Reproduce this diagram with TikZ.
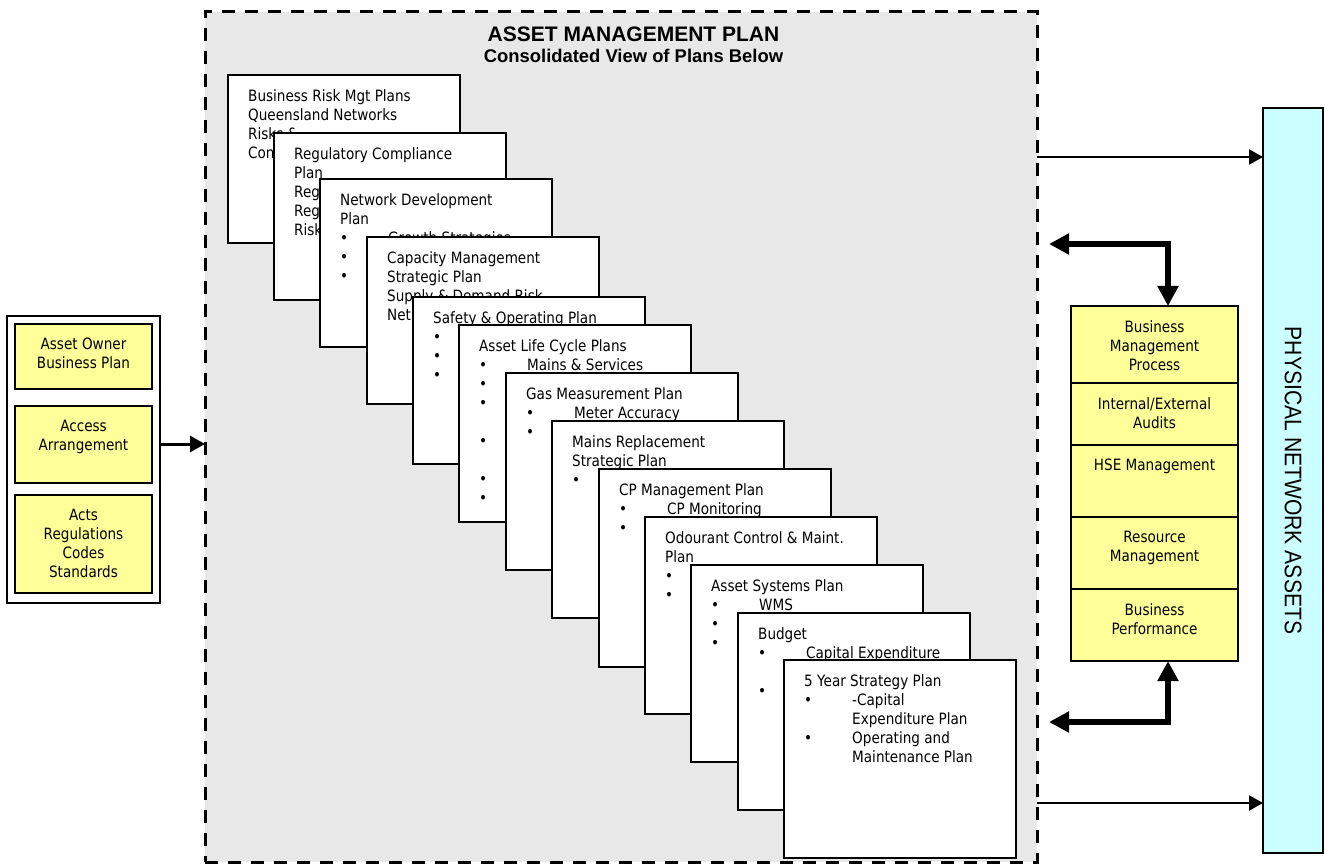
\documentclass[tikz,border=0pt]{standalone}
\usepackage{fontspec}
\setmainfont{DejaVu Sans}[FakeStretch=0.87]
\newfontfamily\headfont{Liberation Sans}
\newfontfamily\sidefont{Liberation Sans}[FakeStretch=0.88]
\usetikzlibrary{positioning,arrows.meta}
\definecolor{panelgray}{HTML}{E8E8E8}
\definecolor{planyellow}{HTML}{FFFF99}
\definecolor{assetcyan}{HTML}{CCFFFF}
\newcommand{\bul}[1]{\makebox[48pt][l]{\textbullet}#1}
\newcommand{\ind}{\hspace*{48pt}}
\begin{document}
\begin{tikzpicture}[x=1pt,y=-1pt,line join=miter,
	txt/.style={inner sep=0pt,font=\fontsize{15.6}{19}\selectfont},
	plan/.style={draw,fill=white,line width=1.6pt,anchor=north west,inner sep=0pt,outer sep=0pt,minimum width=232pt},
	plantxt/.style={txt,anchor=north west,align=left},
	ybox/.style={draw,fill=planyellow,line width=1.4pt,inner sep=0pt,outer sep=0pt,minimum width=167pt},
	ytxt/.style={txt,align=center},
	inarrow/.style={line width=3pt,>={Triangle[length=15pt,width=16pt]},->},
	outarrow/.style={line width=2pt,>={Triangle[length=14pt,width=15pt]},->},
	fatarrow/.style={line width=6pt,>={Triangle[length=20pt,width=20pt]},<->}]
	\useasboundingbox (0,0) rectangle (1325,866);
	\node[draw,fill=panelgray,line width=3pt,dash pattern=on 13pt off 10pt,anchor=north west,inner sep=0pt,outer sep=0pt,minimum width=832pt,minimum height=850pt] (amp) at (205,12) {};
	\node[font=\headfont\bfseries\fontsize{21}{24}\selectfont,inner sep=0pt] (amptitle) at (633.5,34.5) {ASSET MANAGEMENT PLAN};
	\node[font=\headfont\bfseries\fontsize{18.4}{22}\selectfont,inner sep=0pt,below=6.5pt of amptitle] (ampsub) {Consolidated View of Plans Below};
	
	\node[plan,minimum height=168pt] (c1) at (228,75) {};
	\node[plantxt] (c1t) at ([shift={(20,14)}]c1.north west) {Business Risk Mgt Plans\\Queensland Networks\\Risks \&\\Con};
	\node[plan,minimum height=167pt] (c2) at (274,133) {};
	\node[plantxt] (c2t) at ([shift={(20,14)}]c2.north west) {Regulatory Compliance\\Plan\\Reg\\Reg\\Risk};
	\node[plan,minimum height=168pt] (c3) at (320,179) {};
	\node[plantxt] (c3t) at ([shift={(20,14)}]c3.north west) {Network Development\\Plan\\\bul{Growth Strategies}\\\bul{}\\\bul{}};
	\node[plan,minimum height=167pt] (c4) at (367,237) {};
	\node[plantxt] (c4t) at ([shift={(20,14)}]c4.north west) {Capacity Management\\Strategic Plan\\Supply \& Demand Risk\\Net};
	\node[plan,minimum height=167pt] (c5) at (413,297) {};
	\node[plantxt] (c5t) at ([shift={(20,14)}]c5.north west) {Safety \& Operating Plan\\\bul{}\\\bul{}\\\bul{}};
	\node[plan,minimum height=197pt] (c6) at (459,325) {};
	\node[plantxt] (c6t) at ([shift={(20,14)}]c6.north west) {Asset Life Cycle Plans\\\bul{Mains \& Services}\\\bul{}\\\bul{}\\[19pt]\bul{}\\[19pt]\bul{}\\\bul{}};
	\node[plan,minimum height=197pt] (c7) at (506,373) {};
	\node[plantxt] (c7t) at ([shift={(20,14)}]c7.north west) {Gas Measurement Plan\\\bul{Meter Accuracy}\\\bul{}};
	\node[plan,minimum height=197pt] (c8) at (552,421) {};
	\node[plantxt] (c8t) at ([shift={(20,14)}]c8.north west) {Mains Replacement\\Strategic Plan\\\bul{}};
	\node[plan,minimum height=198pt] (c9) at (599,469) {};
	\node[plantxt] (c9t) at ([shift={(20,14)}]c9.north west) {CP Management Plan\\\bul{CP Monitoring}\\\bul{}};
	\node[plan,minimum height=197pt] (c10) at (645,517) {};
	\node[plantxt] (c10t) at ([shift={(20,14)}]c10.north west) {Odourant Control \& Maint.\\Plan\\\bul{}\\\bul{}};
	\node[plan,minimum height=197pt] (c11) at (691,565) {};
	\node[plantxt] (c11t) at ([shift={(20,14)}]c11.north west) {Asset Systems Plan\\\bul{WMS}\\\bul{}\\\bul{}};
	\node[plan,minimum height=197pt] (c12) at (738,613) {};
	\node[plantxt] (c12t) at ([shift={(20,14)}]c12.north west) {Budget\\\bul{Capital Expenditure}\\[19pt]\bul{}};
	\node[plan,minimum height=198pt] (c13) at (784,660) {};
	\node[plantxt] (c13t) at ([shift={(20,14)}]c13.north west) {5 Year Strategy Plan\\\bul{-Capital}\\\ind Expenditure Plan\\\bul{Operating and}\\\ind Maintenance Plan};
	
	\node[draw,fill=assetcyan,line width=1.4pt,anchor=north west,inner sep=0pt,outer sep=0pt,minimum width=60pt,minimum height=745pt] (pna) at (1263,108) {};
	\node[rotate=-90,inner sep=0pt,font=\sidefont\fontsize{24}{24}\selectfont] (pnat) at (pna.center) {PHYSICAL NETWORK ASSETS};
	
	\node[ybox,minimum height=77pt,anchor=north] (bm) at (1154.5,306) {};
	\node[ybox,minimum height=62pt,below=0pt of bm] (ia) {};
	\node[ybox,minimum height=72pt,below=0pt of ia] (hse) {};
	\node[ybox,minimum height=72pt,below=0pt of hse] (rm) {};
	\node[ybox,minimum height=72pt,below=0pt of rm] (bp) {};
	\node[ytxt,below=14pt of bm.north] (bmt) {Business\\Management\\Process};
	\node[ytxt,below=14pt of ia.north] (iat) {Internal/External\\Audits};
	\node[ytxt,below=14pt of hse.north] (hset) {HSE Management};
	\node[ytxt,below=14pt of rm.north] (rmt) {Resource\\Management};
	\node[ytxt,below=14pt of bp.north] (bpt) {Business\\Performance};
	
	\node[draw,fill=white,line width=1.6pt,anchor=north west,inner sep=0pt,outer sep=0pt,minimum width=153pt,minimum height=287pt] (inbox) at (7,316) {};
	\node[ybox,minimum width=137pt,minimum height=65pt,anchor=north west] (aobp) at (15,324) {};
	\node[ybox,minimum width=137pt,minimum height=77pt,anchor=north west] (acc) at (15,406) {};
	\node[ybox,minimum width=137pt,minimum height=98pt,anchor=north west] (acts) at (15,495) {};
	\node[ytxt,below=14pt of aobp.north] (aobpt) {Asset Owner\\Business Plan};
	\node[ytxt,below=14pt of acc.north] (acct) {Access\\Arrangement};
	\node[ytxt,below=14pt of acts.north] (actst) {Acts\\Regulations\\Codes\\Standards};
	
	\coordinate (upend) at (1049,244);
	\coordinate (lowend) at (1049,722);
	\draw[inarrow] (inbox.east |- 0,444) -- (amp.west |- 0,444);
	\draw[outarrow] (amp.east |- 0,157) -- (pna.west |- 0,157);
	\draw[outarrow] (amp.east |- 0,803) -- (pna.west |- 0,803);
	\draw[fatarrow] (upend) -| ([xshift=13.5pt]bm.north);
	\draw[fatarrow] (lowend) -| ([xshift=13.5pt]bp.south);
\end{tikzpicture}
\end{document}
